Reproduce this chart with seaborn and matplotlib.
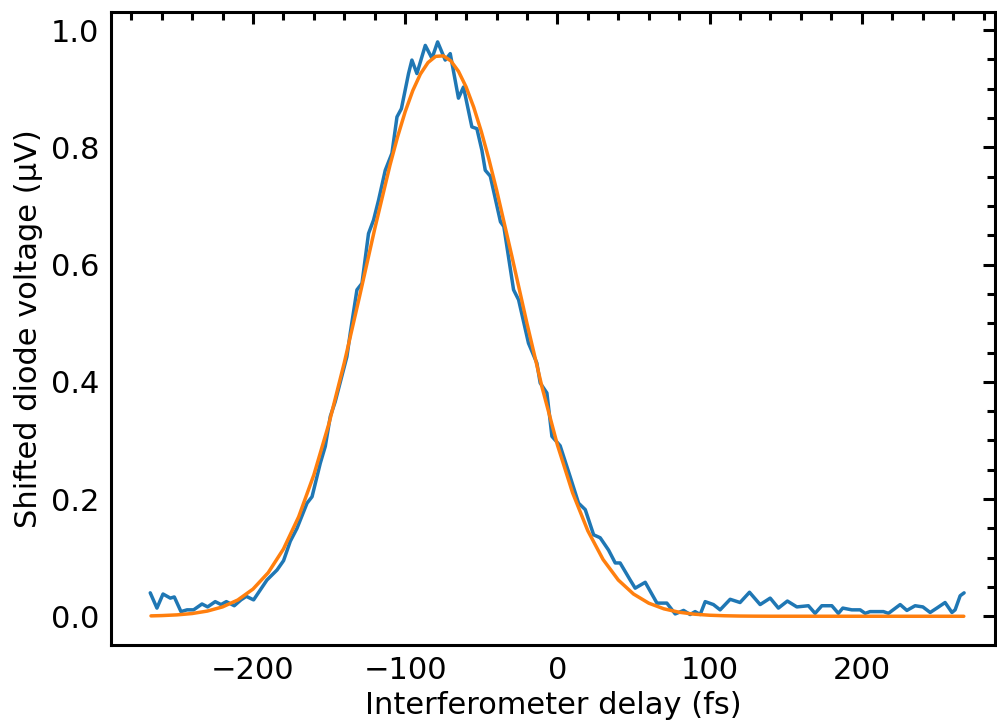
import numpy as np
import pandas as pd
import matplotlib.pyplot as plt
from matplotlib.ticker import MultipleLocator
import seaborn as sns

delay = [-267.5, -263.1, -259.1, -254.3, -251.7, -247.3, -243.3, -239.0, -233.5, -229.8,
         -224.8, -221.0, -217.5, -212.3, -207.9, -204.4, -199.6, -195.2, -190.8, -184.2,
         -179.9, -175.5, -171.1, -164.5, -161.2, -155.8, -152.5, -149.2, -146.0, -138.3,
         -136.1, -131.7, -128.4, -124.1, -120.8, -117.5, -113.1, -108.7, -105.4, -102.5,
         -97.8, -95.6, -92.3, -86.8, -82.4, -78.7, -73.7, -70.4, -65.0, -61.7,
         -56.2, -52.9, -49.6, -47.4, -44.1, -37.4, -35.2, -28.8, -25.5, -19.0,
         -13.5, -11.3, -6.9, -3.6, 1.8, 8.4, 13.9, 18.3, 23.8, 28.1,
         33.6, 38.0, 41.2, 47.8, 51.1, 57.7, 65.4, 71.9, 77.4, 82.9,
         87.2, 90.5, 93.8, 97.1, 102.5, 106.9, 113.5, 120.0, 126.2, 133.2,
         139.8, 145.2, 151.1, 157.3, 164.9, 169.3, 173.7, 180.3, 184.6, 187.5,
         193.4, 198.9, 202.2, 205.4, 209.8, 214.2, 217.5, 225.2, 229.6, 235.0,
         240.1, 244.9, 249.3, 254.7, 259.2, 261.3, 264.6, 267.2]
voltage = [0.040, 0.014, 0.038, 0.031, 0.033, 0.008, 0.011, 0.011, 0.021, 0.016,
           0.025, 0.020, 0.025, 0.018, 0.028, 0.034, 0.028, 0.045, 0.062, 0.079,
           0.095, 0.128, 0.150, 0.193, 0.204, 0.261, 0.290, 0.341, 0.366, 0.443,
           0.483, 0.557, 0.568, 0.653, 0.676, 0.710, 0.761, 0.790, 0.852, 0.866,
           0.926, 0.949, 0.926, 0.974, 0.952, 0.980, 0.949, 0.960, 0.884, 0.903,
           0.835, 0.832, 0.795, 0.761, 0.751, 0.673, 0.665, 0.557, 0.540, 0.466,
           0.432, 0.398, 0.381, 0.307, 0.291, 0.238, 0.193, 0.182, 0.139, 0.134,
           0.113, 0.091, 0.091, 0.062, 0.048, 0.058, 0.0225, 0.0225, 0.004, 0.010,
           0.003, 0.008, 0.003, 0.025, 0.020, 0.011, 0.029, 0.0235, 0.041, 0.020,
           0.031, 0.014, 0.026, 0.016, 0.018, 0.005, 0.018, 0.018, 0.005, 0.014,
           0.011, 0.011, 0.005, 0.008, 0.008, 0.008, 0.005, 0.020, 0.010, 0.018,
           0.016, 0.0065, 0.014, 0.0235, 0.0065, 0.011, 0.035, 0.040]

# gaussian fit curve
fit_delay = [-267, -260, -250, -240, -230, -220, -210, -200, -190, -180,
             -170, -160, -150, -140, -130, -120, -110, -105, -100, -95,
             -90, -85, -80, -75, -70, -65, -60, -55, -50, -45,
             -40, -30, -20, -10, 0, 10, 20, 30, 40, 50,
             60, 70, 80, 90, 100, 110, 120, 130, 140, 267]
fit_voltage = [0.0007, 0.0012, 0.0024, 0.0047, 0.0089, 0.0160, 0.0278, 0.0464, 0.0744, 0.1147,
               0.1697, 0.2413, 0.3296, 0.4327, 0.5456, 0.6612, 0.7697, 0.8181, 0.8610, 0.8970,
               0.9252, 0.9448, 0.9553, 0.9562, 0.9476, 0.9298, 0.9032, 0.8687, 0.8271, 0.7797,
               0.7278, 0.6153, 0.4997, 0.3900, 0.2924, 0.2106, 0.1458, 0.0969, 0.0619, 0.0380,
               0.0224, 0.0127, 0.0069, 0.0036, 0.0018, 0.0009, 0.0004, 0.0002, 0.0001, 0.0]

data = pd.DataFrame({'delay': delay, 'voltage': voltage})
fit = pd.DataFrame({'delay': fit_delay, 'voltage': fit_voltage})

sns.set_style('white')
plt.rcParams['font.family'] = ['DejaVu Sans']
plt.rcParams['font.size'] = 22
plt.rcParams['axes.unicode_minus'] = True
plt.rcParams['text.color'] = 'black'
plt.rcParams['axes.labelcolor'] = 'black'

fig, ax = plt.subplots(figsize=(9.97, 7.28), dpi=100)
fig.subplots_adjust(left=0.111, right=0.998, bottom=0.114, top=0.9835)

sns.lineplot(data=data, x='delay', y='voltage', ax=ax, color='#1f77b4', lw=2.5,
             solid_joinstyle='round')
sns.lineplot(data=fit, x='delay', y='voltage', ax=ax, color='#ff7f0e', lw=2.5,
             solid_joinstyle='round')

ax.set_xlim(-293.5, 287.5)
ax.set_ylim(-0.049, 1.031)
ax.xaxis.set_major_locator(MultipleLocator(100))
ax.xaxis.set_minor_locator(MultipleLocator(20))
ax.yaxis.set_major_locator(MultipleLocator(0.2))
ax.yaxis.set_minor_locator(MultipleLocator(0.05))
ax.yaxis.set_major_formatter(plt.FormatStrFormatter('%.1f'))

ax.tick_params(which='both', direction='in', top=True, right=True, width=2.2,
               labelsize=22, pad=8, color='black', labelcolor='black')
ax.tick_params(which='major', length=8.6)
ax.tick_params(which='minor', length=5.8)
for s in ax.spines.values():
    s.set_linewidth(2.2)
    s.set_color('black')

ax.set_xlabel('Interferometer delay (fs)', fontsize=22, labelpad=4, color='black')
ax.set_ylabel('Shifted diode voltage (µV)', fontsize=22, labelpad=6, color='black')

fig.savefig('out.png', dpi=100)
